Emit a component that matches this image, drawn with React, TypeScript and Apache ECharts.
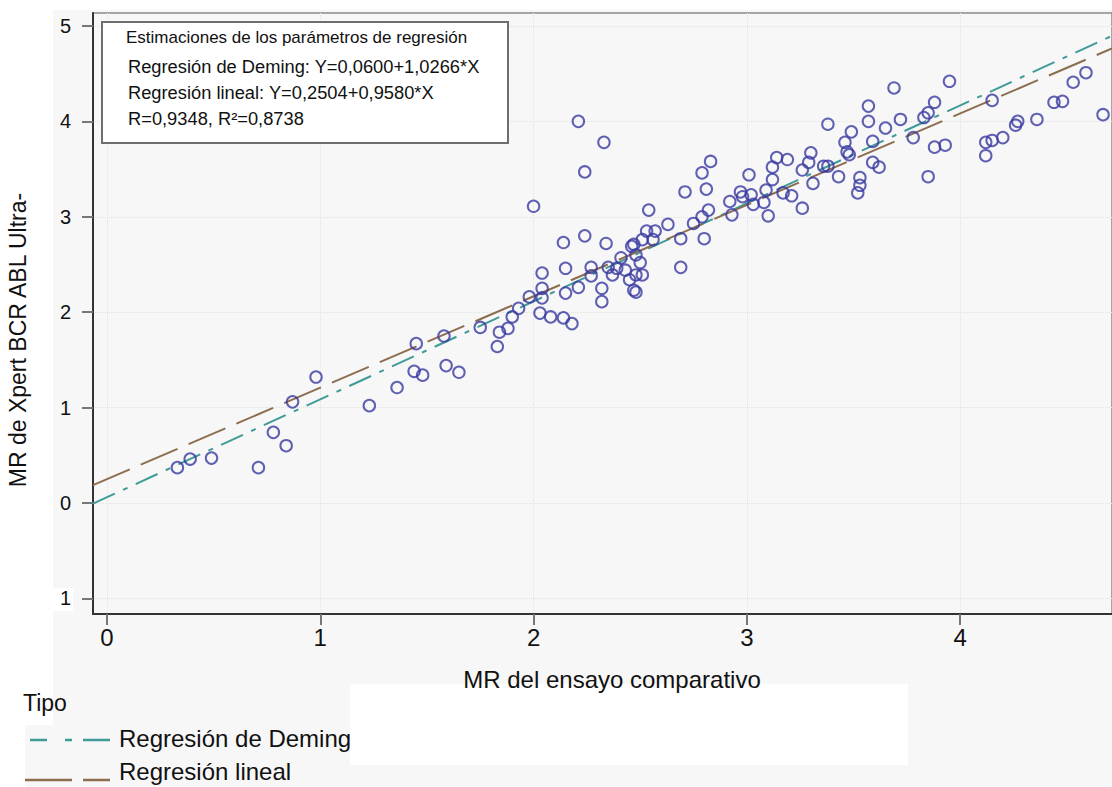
import React, { useEffect, useRef } from "react";
import * as echarts from "echarts";

const FONT = "'Liberation Sans', Arial, sans-serif";

const xTicks = [0, 1, 2, 3, 4];
const yTicks = [-1, 0, 1, 2, 3, 4, 5];
const yTickLabels = ["1", "0", "1", "2", "3", "4", "5"];

const comparativo = [
  0.33, 0.39, 0.49, 0.71, 0.78, 0.84, 0.87, 0.98, 1.23, 1.36,
  1.44, 1.48, 1.45, 1.58, 1.59, 1.65, 1.75, 1.83, 1.84, 1.88,
  1.90, 1.93, 1.98, 2.00, 2.03, 2.04, 2.04, 2.04, 2.08, 2.14,
  2.18, 2.14, 2.15, 2.15, 2.21, 2.24, 2.33, 2.24, 2.21, 2.27,
  2.27, 2.32, 2.32, 2.34, 2.35, 2.37, 2.39, 2.41, 2.43, 2.45,
  2.46, 2.47, 2.47, 2.48, 2.48, 2.48, 2.50, 2.51, 2.51, 2.53,
  2.54, 2.57, 2.56, 2.63, 2.69, 2.69, 2.71, 2.75, 2.79, 2.79,
  2.81, 2.83, 2.82, 2.80, 2.92, 2.93, 2.97, 2.98, 3.01, 3.02,
  3.03, 3.08, 3.09, 3.10, 3.12, 3.12, 3.14, 3.19, 3.17, 3.21,
  3.26, 3.26, 3.29, 3.30, 3.31, 3.36, 3.38, 3.38, 3.43, 3.46,
  3.47, 3.49, 3.48, 3.53, 3.53, 3.52, 3.57, 3.57, 3.59, 3.59,
  3.62, 3.65, 3.69, 3.72, 3.78, 3.83, 3.85, 3.88, 3.95, 3.88,
  3.93, 3.85, 4.15, 4.12, 4.12, 4.15, 4.20, 4.26, 4.27, 4.36,
  4.44, 4.48, 4.53, 4.59, 4.67,
];

const xpert = [
  0.37, 0.46, 0.47, 0.37, 0.74, 0.60, 1.06, 1.32, 1.02, 1.21,
  1.38, 1.34, 1.67, 1.75, 1.44, 1.37, 1.84, 1.64, 1.79, 1.83,
  1.95, 2.04, 2.16, 3.11, 1.99, 2.25, 2.15, 2.41, 1.95, 1.94,
  1.88, 2.73, 2.46, 2.20, 4.00, 3.47, 3.78, 2.80, 2.26, 2.47,
  2.38, 2.25, 2.11, 2.72, 2.47, 2.39, 2.46, 2.57, 2.44, 2.34,
  2.69, 2.71, 2.23, 2.21, 2.60, 2.39, 2.52, 2.39, 2.76, 2.85,
  3.07, 2.85, 2.76, 2.92, 2.77, 2.47, 3.26, 2.93, 3.00, 3.46,
  3.29, 3.58, 3.07, 2.77, 3.16, 3.02, 3.26, 3.21, 3.44, 3.23,
  3.13, 3.15, 3.28, 3.01, 3.39, 3.52, 3.62, 3.60, 3.25, 3.22,
  3.09, 3.49, 3.57, 3.67, 3.35, 3.53, 3.53, 3.97, 3.42, 3.78,
  3.68, 3.89, 3.65, 3.41, 3.33, 3.25, 4.16, 4.00, 3.79, 3.57,
  3.52, 3.93, 4.35, 4.02, 3.83, 4.04, 4.09, 4.20, 4.42, 3.73,
  3.75, 3.42, 4.22, 3.78, 3.64, 3.80, 3.83, 3.96, 4.00, 4.02,
  4.20, 4.21, 4.41, 4.51, 4.07,
];

const demingIntercept = 0.06;
const demingSlope = 1.0266;
const linealIntercept = 0.2504;
const linealSlope = 0.958;

const X_MIN = -0.0656;
const X_MAX = 4.712;
const Y_MIN = -1.164;
const Y_MAX = 5.136;

const boxTitle = "Estimaciones de los parámetros de regresión";
const boxLines = [
  "Regresión de Deming: Y=0,0600+1,0266*X",
  "Regresión lineal: Y=0,2504+0,9580*X",
  "R=0,9348, R²=0,8738",
];

const DEMING_COLOR = "#3f9b97";
const LINEAL_COLOR = "#8c6d4e";
const POINT_COLOR = "#3a3aa0";

export default function App() {
  const ref = useRef<HTMLDivElement>(null);

  useEffect(() => {
    if (!ref.current) return;
    const chart = echarts.init(ref.current, null, { renderer: "svg" });

    const lineEnds = (a: number, b: number) => [
      [X_MIN, a + b * X_MIN],
      [X_MAX, a + b * X_MAX],
    ];

    const txt = (
      text: string,
      x: number,
      y: number,
      fontSize: number,
      align: string,
      extra: any = {}
    ) => ({
      type: "text",
      x,
      y,
      z: 101,
      ...extra,
      style: {
        text,
        fontSize,
        fontFamily: FONT,
        fill: "#111",
        align,
        verticalAlign: "middle",
        textAlign: align,
        textVerticalAlign: "middle",
      },
    });

    const option: any = {
      animation: false,
      backgroundColor: "#ffffff",
      textStyle: { fontFamily: FONT },
      grid: {
        left: 93,
        right: 0,
        top: 13,
        bottom: 173,
        show: true,
        backgroundColor: "transparent",
        borderColor: "#8a8a8a",
        borderWidth: 1.5,
      },
      xAxis: {
        type: "value",
        min: X_MIN,
        max: X_MAX,
        axisLine: { show: true, onZero: false, lineStyle: { color: "#333", width: 2 } },
        axisTick: {
          show: true,
          customValues: xTicks,
          length: 11,
          lineStyle: { color: "#777", width: 2 },
        },
        axisLabel: {
          customValues: xTicks,
          fontSize: 24,
          color: "#111",
          margin: 11,
          fontFamily: FONT,
        },
        splitLine: { show: true, lineStyle: { color: "#e2e2e2", type: "dotted", width: 1 } },
      },
      yAxis: {
        type: "value",
        min: Y_MIN,
        max: Y_MAX,
        axisLine: { show: true, onZero: false, lineStyle: { color: "#333", width: 2 } },
        axisTick: {
          show: true,
          customValues: yTicks,
          length: 11,
          lineStyle: { color: "#777", width: 2 },
        },
        axisLabel: {
          customValues: yTicks,
          fontSize: 20,
          color: "#111",
          margin: 22,
          fontFamily: FONT,
          formatter: (v: number) => {
            const i = yTicks.indexOf(Math.round(v));
            return i >= 0 ? yTickLabels[i] : "";
          },
        },
        splitLine: { show: true, lineStyle: { color: "#e2e2e2", type: "dotted", width: 1 } },
      },
      series: [
        {
          name: "Regresión de Deming",
          type: "line",
          data: lineEnds(demingIntercept, demingSlope),
          showSymbol: false,
          symbol: "none",
          z: 3,
          lineStyle: { color: DEMING_COLOR, width: 2, type: [24, 9, 5, 9] },
        },
        {
          name: "Regresión lineal",
          type: "line",
          data: lineEnds(linealIntercept, linealSlope),
          showSymbol: false,
          symbol: "none",
          z: 3,
          lineStyle: { color: LINEAL_COLOR, width: 2, type: [40, 12] },
        },
        {
          name: "MR",
          type: "scatter",
          data: comparativo.map((x, i) => [x, xpert[i]]),
          symbol: "circle",
          symbolSize: 11.5,
          z: 4,
          itemStyle: { color: "rgba(0,0,0,0)", borderColor: POINT_COLOR, borderWidth: 2 },
        },
      ],
      graphic: [
        // backgrounds
        { type: "rect", z: -100, silent: true, shape: { x: 53, y: 10, width: 1059, height: 777 }, style: { fill: "#f7f7f7" } },
        { type: "rect", z: -100, silent: true, shape: { x: 25, y: 725, width: 28, height: 62 }, style: { fill: "#f7f7f7" } },
        { type: "rect", z: -90, silent: true, shape: { x: 53, y: 588, width: 20, height: 23 }, style: { fill: "#ffffff" } },
        { type: "rect", z: -90, silent: true, shape: { x: 350, y: 684, width: 558, height: 81 }, style: { fill: "#ffffff" } },
        // inset box
        {
          type: "rect",
          z: 100,
          shape: { x: 102, y: 22, width: 406, height: 121 },
          style: { fill: "#ffffff", stroke: "#6e6e6e", lineWidth: 2 },
        },
        txt(boxTitle, 126, 37, 17, "left"),
        ...boxLines.map((t, i) => txt(t, 128, [66, 92, 118][i], 18.3, "left")),
        // axis titles
        txt("MR del ensayo comparativo", 612, 679, 24, "center"),
        txt("MR de Xpert BCR ABL Ultra-", 18, 340, 23, "center", { rotation: Math.PI / 2 }),
        // legend
        txt("Tipo", 23, 703, 23, "left"),
        { type: "line", z: 101, shape: { x1: 30, y1: 740, x2: 47, y2: 740 }, style: { stroke: DEMING_COLOR, lineWidth: 2.5 } },
        { type: "line", z: 101, shape: { x1: 65, y1: 740, x2: 72, y2: 740 }, style: { stroke: DEMING_COLOR, lineWidth: 2.5 } },
        { type: "line", z: 101, shape: { x1: 83, y1: 740, x2: 110, y2: 740 }, style: { stroke: DEMING_COLOR, lineWidth: 2.5 } },
        txt("Regresión de Deming", 119, 738, 24, "left"),
        { type: "line", z: 101, shape: { x1: 25, y1: 780, x2: 72, y2: 780 }, style: { stroke: LINEAL_COLOR, lineWidth: 2.5 } },
        { type: "line", z: 101, shape: { x1: 83, y1: 780, x2: 110, y2: 780 }, style: { stroke: LINEAL_COLOR, lineWidth: 2.5 } },
        txt("Regresión lineal", 119, 771, 24, "left"),
      ],
    };

    chart.setOption(option);
    return () => chart.dispose();
  }, []);

  return (
    <div
      ref={ref}
      style={{ position: "fixed", left: 0, top: 0, width: 1112, height: 787 }}
    />
  );
}
